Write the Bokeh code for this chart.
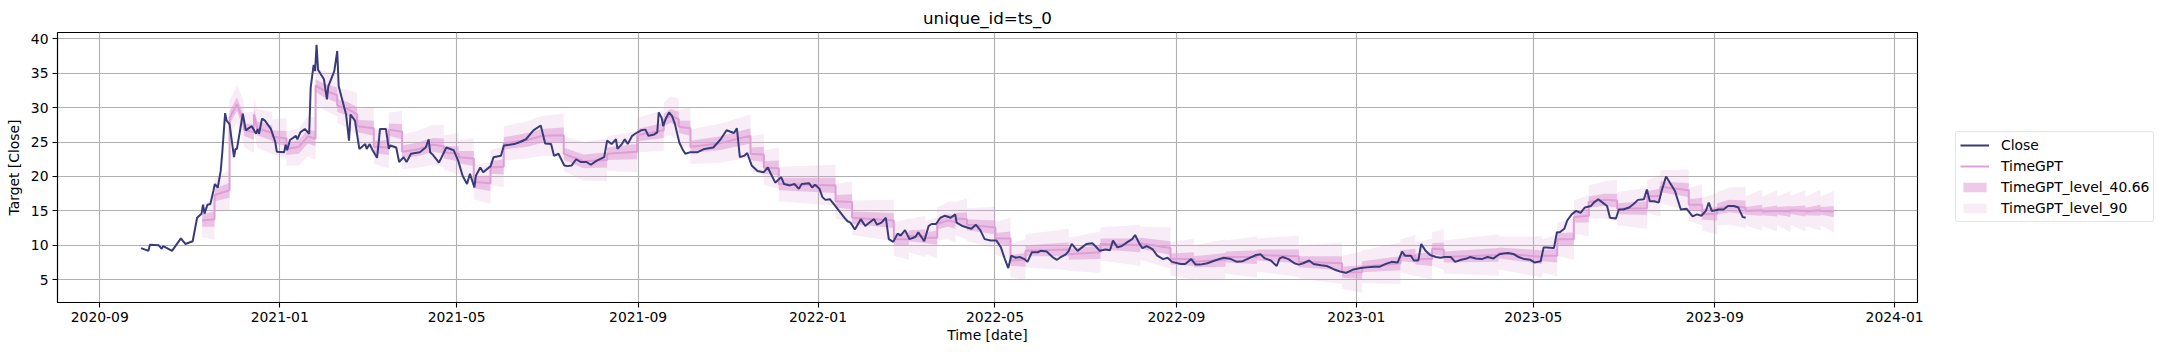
import numpy as np
import pandas as pd
from bokeh.plotting import figure
from bokeh.layouts import row
from bokeh.models import Range1d, FixedTicker, DatetimeTickFormatter, Legend, LegendItem
from bokeh.embed import file_html
from bokeh.resources import INLINE

# ---------------- data ----------------
BASE_DATE = "2020-09-01"   # day offsets below are counted from this date

close_day = [28, 33, 34, 40, 42, 43, 49, 55, 58, 63, 66, 69, 70, 71, 73, 75, 77, 78, 80, 82,
             83, 85, 86, 88, 91, 92, 93, 97, 99, 103, 106, 107, 108, 110, 112, 116, 119, 120, 125, 126,
             127, 129, 133, 134, 136, 139, 142, 143, 145, 146, 147, 148, 152, 154, 155, 159, 161, 162, 167, 169,
             170, 173, 176, 180, 181, 183, 185, 188, 189, 190, 194, 196, 197, 201, 203, 206, 208, 211, 217, 221,
             223, 224, 226, 230, 235, 240, 243, 246, 249, 251, 254, 255, 258, 260, 265, 267, 272, 274, 281, 285,
             289, 294, 299, 302, 306, 308, 311, 315, 317, 320, 323, 326, 330, 333, 337, 342, 344, 347, 350, 351,
             354, 356, 358, 361, 363, 367, 370, 372, 376, 378, 379, 381, 382, 384, 386, 388, 390, 393, 395, 397,
             400, 405, 410, 416, 421, 425, 430, 432, 434, 437, 439, 442, 446, 450, 453, 455, 458, 462, 464, 468,
             471, 474, 476, 481, 483, 485, 488, 490, 492, 495, 498, 505, 507, 509, 512, 516, 519, 523, 525, 527,
             530, 533, 535, 538, 541, 543, 546, 549, 553, 555, 559, 562, 564, 567, 570, 573, 577, 580, 581, 585,
             588, 591, 594, 597, 600, 604, 608, 611, 614, 616, 618, 621, 624, 627, 629, 632, 636, 638, 642, 646,
             649, 651, 655, 657, 659, 663, 666, 669, 673, 675, 678, 682, 685, 687, 690, 693, 697, 700, 702, 705,
             707, 710, 714, 717, 721, 724, 727, 733, 736, 740, 743, 746, 751, 756, 762, 767, 771, 775, 779, 784,
             787, 790, 794, 798, 800, 802, 806, 810, 813, 816, 820, 823, 828, 832, 837, 841, 845, 848, 850, 855,
             859, 864, 868, 872, 876, 880, 883, 885, 889, 891, 894, 896, 899, 902, 906, 909, 912, 916, 919, 923,
             927, 929, 933, 937, 941, 945, 949, 952, 955, 959, 962, 966, 970, 973, 977, 979, 981, 986, 988, 990,
             993, 995, 998, 1001, 1004, 1007, 1011, 1013, 1016, 1019, 1022, 1024, 1028, 1030, 1033, 1037, 1040, 1043, 1047, 1049,
             1051, 1054, 1057, 1059, 1062, 1066, 1068, 1072, 1076, 1080, 1083, 1086, 1089, 1091, 1093, 1098, 1101, 1104, 1108, 1111,
             1114, 1116]

close_val = [9.6, 9.2, 10.1, 10.0, 9.5, 9.9, 9.2, 11.0, 10.2, 10.6, 14.0, 14.6, 15.9, 14.6, 15.9, 16.0, 17.9, 18.9, 18.4, 20.8,
             23.3, 29.2, 28.1, 27.6, 22.8, 24.0, 24.0, 29.1, 26.7, 27.3, 26.2, 26.9, 26.2, 28.4, 28.1, 26.9, 25.0, 23.6, 23.5, 24.6,
             23.8, 25.3, 25.9, 25.4, 26.4, 26.9, 26.2, 32.9, 36.2, 35.3, 39.1, 35.5, 34.1, 31.2, 33.1, 35.3, 38.2, 33.1, 29.0, 25.2,
             29.0, 28.1, 24.0, 24.7, 24.0, 24.7, 23.8, 22.7, 24.7, 26.9, 26.9, 24.0, 24.5, 24.2, 22.1, 22.8, 22.1, 23.3, 23.5, 24.2,
             25.4, 23.5, 23.1, 22.0, 24.2, 23.8, 22.3, 20.1, 18.9, 20.4, 18.4, 20.1, 21.3, 20.6, 21.5, 22.8, 23.0, 24.5, 24.7, 25.0,
             25.4, 26.7, 27.4, 24.8, 24.7, 23.0, 23.3, 21.6, 21.5, 21.6, 22.5, 22.1, 22.1, 21.7, 22.3, 22.8, 25.2, 24.7, 25.4, 24.0,
             24.7, 25.4, 24.7, 25.9, 26.2, 26.7, 26.8, 25.9, 26.1, 26.4, 29.3, 28.5, 27.3, 28.5, 29.3, 28.8, 27.6, 24.9, 24.0, 23.3,
             23.5, 23.5, 24.0, 24.2, 25.4, 26.7, 26.3, 27.0, 22.8, 23.0, 23.4, 21.6, 20.8, 20.6, 21.3, 20.4, 19.1, 19.9, 18.9, 18.7,
             18.9, 18.2, 18.9, 19.0, 18.4, 18.8, 18.2, 17.0, 16.6, 16.7, 15.9, 14.0, 13.5, 13.3, 12.3, 13.8, 12.8, 13.5, 13.8, 13.0,
             13.3, 14.0, 10.9, 10.5, 11.7, 11.4, 12.2, 10.9, 11.2, 11.9, 10.6, 12.8, 13.1, 13.1, 14.0, 14.3, 14.0, 14.5, 13.3, 12.8,
             12.6, 12.4, 13.0, 12.2, 10.9, 10.7, 10.7, 9.7, 7.8, 6.7, 8.5, 8.2, 8.3, 8.0, 7.6, 9.0, 9.0, 9.2, 9.1, 8.3,
             7.9, 8.2, 8.7, 9.2, 10.2, 9.2, 9.7, 10.2, 10.3, 9.9, 9.2, 9.4, 9.3, 10.7, 9.7, 9.9, 10.5, 10.9, 11.5, 10.2,
             9.6, 9.9, 9.4, 8.5, 8.0, 8.2, 7.6, 7.3, 7.3, 8.0, 7.2, 7.2, 7.4, 7.8, 8.2, 8.0, 7.6, 7.7, 8.1, 8.6,
             8.7, 8.1, 7.8, 7.0, 8.1, 8.3, 8.0, 7.4, 7.2, 7.4, 7.8, 7.3, 7.1, 7.0, 6.5, 6.2, 6.0, 6.3, 6.5, 6.7,
             6.8, 6.9, 6.9, 7.3, 7.6, 7.5, 9.1, 8.5, 8.5, 7.8, 7.8, 10.2, 9.2, 8.6, 8.3, 8.2, 8.3, 8.3, 7.6, 7.9,
             8.1, 8.3, 8.1, 8.0, 8.3, 8.1, 8.7, 8.8, 8.9, 8.7, 8.3, 8.0, 7.9, 7.5, 7.7, 9.7, 9.7, 9.6, 11.9, 11.9,
             12.4, 13.6, 14.5, 15.0, 14.7, 15.5, 15.7, 16.2, 16.7, 16.2, 15.7, 14.0, 13.9, 15.2, 15.2, 15.5, 16.0, 16.6, 16.7, 18.1,
             16.4, 16.4, 16.2, 17.9, 20.0, 18.6, 17.9, 15.2, 15.3, 14.2, 14.5, 14.3, 15.0, 16.2, 15.0, 15.2, 15.2, 15.7, 15.7, 15.5,
             14.1, 14.0]

# TimeGPT forecast windows: one line per window (day offset, mean, half-widths of the 40.66 and 90 bands)
fc_day = [
    69.4, 77.8,
    77.8, 88.0,
    88.0, 93.0, 97.7,
    97.7, 104.5,
    104.5, 106.7, 116.9,
    116.9, 126.6,
    126.6, 135.0, 141.0, 146.3,
    146.3, 152.0, 161.0,
    161.0, 168.0, 174.5,
    174.5, 185.8,
    185.8, 196.0,
    196.0, 205.0,
    205.0, 215.0, 226.0, 233.3,
    233.3, 243.4,
    243.4, 253.6,
    253.6, 264.9,
    264.9, 273.9,
    273.9, 290.0, 300.0, 314.6,
    314.6, 328.0, 344.0,
    344.0, 364.4,
    364.4, 382.4,
    382.4, 387.0, 392.6,
    392.6, 400.5,
    400.5, 420.0, 441.2,
    441.2, 450.3,
    450.3, 460.4,
    460.4, 498.9,
    498.9, 510.1,
    510.1, 538.4,
    538.4, 548.6,
    548.6, 559.9,
    559.9, 567.8,
    567.8, 575.0, 580.2,
    580.2, 588.0,
    588.0, 607.3,
    607.3, 617.5,
    617.5, 627.7,
    627.7, 657.0,
    657.0, 678.5,
    678.5, 705.6,
    705.6, 726.0,
    726.0, 741.8,
    741.8, 763.3,
    763.3, 784.7,
    784.7, 813.0,
    813.0, 842.3,
    842.3, 855.9,
    855.9, 881.9,
    881.9, 892.1,
    892.1, 903.4,
    903.4, 911.3,
    911.3, 948.6,
    948.6, 978.0,
    978.0, 988.2,
    988.2, 999.5,
    999.5, 1009.6,
    1009.6, 1020.0, 1028.8,
    1028.8, 1049.2,
    1049.2, 1058.2,
    1058.2, 1077.4,
    1077.4, 1086.5,
    1086.5, 1096.6,
    1096.6, 1105.0, 1115.9,
    1115.9, 1127.2,
    1127.2, 1137.3,
    1137.3, 1146.4,
    1146.4, 1156.5,
    1156.5, 1166.7,
    1166.7, 1175.7,
]
fc_mean = [
    13.6, 13.8,
    17.3, 18.0,
    28.5, 30.5, 27.8,
    26.8, 26.4,
    29.0, 27.0, 26.3,
    25.8, 25.5,
    24.0, 24.3, 25.8, 25.5,
    33.2, 32.5, 31.8,
    30.3, 29.8, 29.0,
    27.3, 27.0,
    24.3, 24.2,
    26.8, 26.5,
    23.6, 23.9, 24.6, 24.4,
    23.5, 23.3,
    22.8, 22.6,
    19.2, 19.0,
    21.3, 21.4,
    24.8, 25.3, 25.9, 26.0,
    23.3, 22.2, 22.4,
    23.3, 23.6,
    26.0, 26.7,
    28.2, 28.8, 28.3,
    27.2, 27.0,
    24.3, 24.8, 25.9,
    23.3, 23.2,
    21.3, 21.2,
    18.9, 18.7,
    16.4, 16.3,
    14.0, 13.6,
    10.9, 10.9,
    11.4, 11.3,
    11.1, 11.1,
    13.1, 13.6, 13.4,
    13.9, 13.8,
    13.0, 12.6,
    11.0, 11.0,
    7.8, 7.9,
    9.2, 9.4,
    8.7, 9.0,
    10.2, 10.0,
    10.3, 9.6,
    8.0, 8.0,
    7.6, 7.9,
    8.3, 8.3,
    8.6, 8.4,
    7.6, 7.4,
    6.1, 6.1,
    6.9, 7.4,
    8.5, 8.5,
    8.0, 8.0,
    9.5, 9.4,
    8.3, 8.6,
    8.9, 8.3,
    8.5, 8.5,
    10.9, 10.9,
    14.1, 14.3,
    16.3, 16.6, 16.5,
    15.3, 15.4,
    17.1, 17.2,
    18.5, 18.0,
    15.9, 15.9,
    14.5, 14.6,
    15.3, 15.7, 15.5,
    15.0, 15.1,
    14.9, 15.0,
    15.0, 14.9,
    15.1, 15.0,
    14.9, 15.1,
    15.0, 14.9,
]
fc_w40 = [
    0.9, 1.1,
    0.9, 1.1,
    0.9, 1.0, 1.1,
    0.9, 1.1,
    0.9, 1.0, 1.1,
    0.9, 1.1,
    0.9, 1.0, 1.0, 1.1,
    0.9, 1.0, 1.1,
    0.9, 1.0, 1.1,
    0.9, 1.1,
    0.9, 1.1,
    0.9, 1.1,
    0.9, 1.0, 1.0, 1.1,
    0.9, 1.1,
    0.9, 1.1,
    0.9, 1.1,
    0.9, 1.1,
    0.9, 1.0, 1.0, 1.1,
    0.9, 1.0, 1.1,
    0.9, 1.1,
    0.9, 1.1,
    0.9, 1.0, 1.1,
    0.9, 1.1,
    0.9, 1.0, 1.1,
    0.9, 1.1,
    0.9, 1.1,
    0.9, 1.1,
    0.9, 1.1,
    0.9, 1.1,
    0.8, 1.0,
    0.8, 1.0,
    0.8, 1.0,
    0.8, 0.9, 1.0,
    0.8, 1.0,
    0.8, 1.0,
    0.8, 1.0,
    0.8, 1.0,
    0.8, 1.0,
    0.8, 1.0,
    0.8, 1.0,
    0.8, 1.0,
    0.8, 1.0,
    0.8, 1.0,
    0.8, 1.0,
    0.8, 1.0,
    0.8, 1.0,
    0.8, 1.0,
    0.8, 1.0,
    0.8, 1.0,
    0.8, 1.0,
    0.8, 1.0,
    0.8, 1.0,
    0.8, 1.0,
    0.8, 1.0,
    0.8, 1.0,
    0.8, 1.0,
    0.8, 0.9, 1.0,
    0.8, 1.0,
    0.8, 1.0,
    0.8, 1.0,
    0.8, 1.0,
    0.8, 1.0,
    0.8, 0.9, 1.0,
    0.55, 0.8,
    0.55, 0.8,
    0.55, 0.8,
    0.55, 0.8,
    0.55, 0.8,
    0.55, 0.8,
]
fc_w90 = [
    2.4, 3.0,
    2.4, 3.0,
    2.5, 2.8, 3.1,
    2.5, 3.0,
    2.5, 2.8, 3.1,
    2.5, 3.0,
    2.5, 2.7, 2.9, 3.1,
    2.5, 2.8, 3.1,
    2.5, 2.8, 3.1,
    2.5, 3.0,
    2.5, 3.0,
    2.5, 3.0,
    2.5, 2.7, 2.9, 3.1,
    2.5, 3.0,
    2.5, 3.0,
    2.5, 3.0,
    2.5, 3.0,
    2.5, 2.7, 2.9, 3.1,
    2.5, 2.8, 3.1,
    2.5, 3.0,
    2.5, 3.0,
    2.5, 2.8, 3.1,
    2.5, 3.0,
    2.5, 2.8, 3.1,
    2.5, 3.0,
    2.5, 3.0,
    2.5, 3.0,
    2.5, 3.0,
    2.5, 3.0,
    2.4, 3.0,
    2.4, 3.0,
    2.4, 3.0,
    2.4, 2.7, 3.0,
    2.4, 3.0,
    2.4, 3.0,
    2.4, 3.0,
    2.4, 3.0,
    2.4, 3.0,
    2.4, 3.0,
    2.4, 3.0,
    2.4, 3.0,
    2.4, 3.0,
    2.4, 3.0,
    2.4, 3.0,
    2.4, 3.0,
    2.4, 3.0,
    2.4, 3.0,
    2.4, 3.0,
    2.4, 3.0,
    2.4, 3.0,
    2.4, 3.0,
    2.4, 3.0,
    2.4, 3.0,
    2.4, 3.0,
    2.4, 3.0,
    2.4, 3.0,
    2.4, 2.7, 3.0,
    2.4, 3.0,
    2.4, 3.0,
    2.4, 3.0,
    2.4, 3.0,
    2.4, 3.0,
    2.4, 2.7, 3.0,
    2.1, 3.0,
    2.1, 3.0,
    2.1, 3.0,
    2.1, 3.0,
    2.1, 3.0,
    2.1, 3.0,
]

x_tick_labels = ["2020-09", "2021-01", "2021-05", "2021-09", "2022-01", "2022-05",
                 "2022-09", "2023-01", "2023-05", "2023-09", "2024-01"]
y_ticks = [5, 10, 15, 20, 25, 30, 35, 40]
x_limits = ["2020-08-03 08:00", "2024-01-16 12:00"]
y_limits = [1.7, 40.9]

# ---------------- build ----------------
base = pd.Timestamp(BASE_DATE)
close_dates = base + pd.to_timedelta(np.array(close_day, dtype=float), unit="D")
fc_dates = base + pd.to_timedelta(np.array(fc_day, dtype=float), unit="D")
mean = np.array(fc_mean)
w40 = np.array(fc_w40)
w90 = np.array(fc_w90)

FONT = "DejaVu Sans"
CLOSE_C = "#393b79"
TGPT_C = "#de9ed6"
FS = "13.9px"
A40 = 0.55
A90 = 0.2

xr = Range1d(pd.Timestamp(x_limits[0]), pd.Timestamp(x_limits[1]))
yr = Range1d(y_limits[0], y_limits[1])

p = figure(width=1955, height=355, x_axis_type="datetime", x_range=xr, y_range=yr,
           output_backend="svg", toolbar_location=None,
           min_border_left=57, min_border_right=38, min_border_top=32, min_border_bottom=53)

p.title.text = "unique_id=ts_0"
p.title.align = "center"
p.title.text_font = FONT
p.title.text_font_size = "16.7px"
p.title.text_font_style = "normal"
p.title.text_color = "black"

p.varea(x=fc_dates, y1=mean - w90, y2=mean + w90, fill_color=TGPT_C, fill_alpha=A90)
p.varea(x=fc_dates, y1=mean - w40, y2=mean + w40, fill_color=TGPT_C, fill_alpha=A40)
p.line(fc_dates, mean, line_color=TGPT_C, line_width=2)
p.line(close_dates, close_val, line_color=CLOSE_C, line_width=2)

tick_ms = [pd.Timestamp(t + "-01").value / 1e6 for t in x_tick_labels]
xt = FixedTicker(ticks=tick_ms)
p.xaxis.ticker = xt
p.xgrid.ticker = xt
fmt = "%Y-%m"
p.xaxis.formatter = DatetimeTickFormatter(years=fmt, months=fmt, days=fmt, hours=fmt,
                                          minutes=fmt, seconds=fmt, milliseconds=fmt,
                                          microseconds=fmt, hourmin=fmt, minsec=fmt)
yt = FixedTicker(ticks=y_ticks)
p.yaxis.ticker = yt
p.ygrid.ticker = yt

p.xaxis.axis_label = "Time [date]"
p.yaxis.axis_label = "Target [Close]"
for ax in (p.xaxis, p.yaxis):
    ax.axis_label_text_font = FONT
    ax.axis_label_text_font_size = FS
    ax.axis_label_text_font_style = "normal"
    ax.axis_label_text_color = "black"
    ax.major_label_text_font = FONT
    ax.major_label_text_font_size = FS
    ax.major_label_text_color = "black"
    ax.major_tick_out = 5
    ax.major_tick_in = 0
    ax.major_tick_line_color = "black"
    ax.major_tick_line_width = 1.1
    ax.minor_tick_line_color = None
    ax.axis_line_color = "black"
    ax.axis_line_width = 1.1
    ax.major_label_standoff = 4
p.xaxis.axis_label_standoff = 2
p.yaxis.axis_label_standoff = 6

for g in (p.xgrid, p.ygrid):
    g.grid_line_color = "#b0b0b0"
    g.grid_line_width = 1.1

p.outline_line_color = "black"
p.outline_line_width = 1.1
p.outline_line_alpha = 1
p.background_fill_color = "white"

# ---- legend, held in a narrow companion figure to the right of the plot frame ----
lg = figure(width=204, height=355, output_backend="svg", toolbar_location=None,
            x_range=Range1d(0, 1), y_range=Range1d(0, 1),
            x_axis_location=None, y_axis_location=None,
            min_border_left=0, min_border_right=0, min_border_top=0, min_border_bottom=0)
lg.grid.visible = False
lg.outline_line_color = None
# legend swatches only: their single points lie outside this figure's visible range
l90 = lg.varea(x=[5, 6], y1=[5, 5], y2=[6, 6], fill_color=TGPT_C, fill_alpha=A90)
l40 = lg.varea(x=[5, 6], y1=[5, 5], y2=[6, 6], fill_color=TGPT_C, fill_alpha=A40)
ltg = lg.line(x=[5, 6], y=[5, 5], line_color=TGPT_C, line_width=2)
lcl = lg.line(x=[5, 6], y=[5, 5], line_color=CLOSE_C, line_width=2)

legend = Legend(items=[
    LegendItem(label="Close", renderers=[lcl]),
    LegendItem(label="TimeGPT", renderers=[ltg]),
    LegendItem(label="TimeGPT_level_40.66", renderers=[l40]),
    LegendItem(label="TimeGPT_level_90", renderers=[l90]),
], location=(0, 80))
legend.label_text_font = FONT
legend.label_text_font_size = FS
legend.label_text_color = "black"
legend.glyph_width = 29
legend.glyph_height = 12
legend.label_height = 18
legend.label_standoff = 12
legend.spacing = 3
legend.padding = 4
legend.margin = 0
legend.border_line_color = "#cccccc"
legend.border_line_width = 1
legend.background_fill_alpha = 0.8
if "border_radius" in legend.properties():
    legend.border_radius = 3
lg.add_layout(legend)

layout = row(p, lg)
open("out.html", "w").write(file_html(layout, INLINE))
